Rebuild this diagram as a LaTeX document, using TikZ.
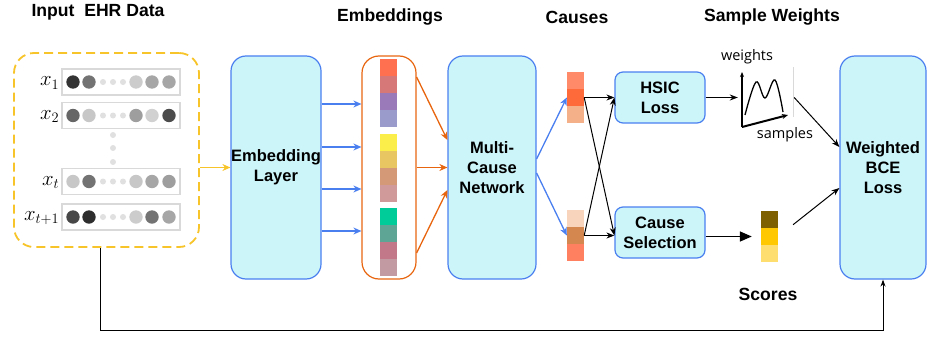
\documentclass[tikz,border=0pt]{standalone}
\usepackage{amsmath}
\usepackage{fontspec}
\setmainfont{Liberation Sans}
\newfontfamily\plotfont{Open Sans}
\usetikzlibrary{arrows.meta}

\definecolor{boxfill}{HTML}{CCF5FA}
\definecolor{boxline}{HTML}{4A7FF0}
\definecolor{embline}{HTML}{E8650F}
\definecolor{ehrline}{HTML}{F7C52A}
% embedding cells
\definecolor{emA}{HTML}{FF7050}
\definecolor{emB}{HTML}{D67878}
\definecolor{emC}{HTML}{9A7AB8}
\definecolor{emD}{HTML}{9B9BCB}
\definecolor{emE}{HTML}{FCEE4A}
\definecolor{emF}{HTML}{E8C763}
\definecolor{emG}{HTML}{D49A78}
\definecolor{emH}{HTML}{D09A9A}
\definecolor{emI}{HTML}{00CC99}
\definecolor{emJ}{HTML}{5FA596}
\definecolor{emK}{HTML}{C27888}
\definecolor{emL}{HTML}{C29AA2}
% causes and scores
\definecolor{caA}{HTML}{FF8A6A}
\definecolor{caB}{HTML}{FF6A3A}
\definecolor{caC}{HTML}{F4B088}
\definecolor{cbA}{HTML}{F8D4BC}
\definecolor{cbB}{HTML}{D4874F}
\definecolor{cbC}{HTML}{FF8060}
\definecolor{scA}{HTML}{7F6000}
\definecolor{scB}{HTML}{FFC800}
\definecolor{scC}{HTML}{FFDE70}

\newcommand{\blockfont}{\fontsize{16.5}{20}\selectfont\bfseries}
\newcommand{\titlefont}{\fontsize{17.6}{20}\selectfont\bfseries}

\begin{document}
\begin{tikzpicture}[x=1pt,y=-1pt]
	\tikzstyle{block}=[rectangle,draw=boxline,fill=boxfill,line width=1.2pt,rounded corners=15pt,minimum width=90pt,minimum height=223pt,align=center,font=\blockfont,inner sep=0pt]
	\tikzstyle{lossbox}=[block,rounded corners=8pt,minimum height=51pt]
	\tikzstyle{embcolumn}=[rectangle,draw=embline,line width=1.2pt,rounded corners=17pt,minimum width=54pt,minimum height=223pt]
	\tikzstyle{ehrframe}=[rectangle,draw=ehrline,line width=1.8pt,dash pattern=on 9pt off 5pt,rounded corners=20pt,minimum width=185pt,minimum height=194pt]
	\tikzstyle{row}=[rectangle,draw=black!15,line width=1.2pt,fill=white,minimum width=118pt,minimum height=26pt]
	\tikzstyle{cell}=[rectangle,inner sep=0pt,minimum width=17pt,minimum height=17.3pt]
	\tikzstyle{title}=[font=\titlefont]
	\tikzstyle{xlab}=[anchor=east,inner sep=1pt,font=\fontsize{20}{22}\selectfont]
	\tikzstyle{bluearrow}=[boxline,line width=1.3pt,-{Stealth[length=8pt,width=7pt]}]
	\tikzstyle{orangearrow}=[embline,line width=1.3pt,-{Stealth[length=8pt,width=7pt]}]
	\tikzstyle{flow}=[black,line width=1pt,-{Stealth[length=8pt,width=6pt]}]
	\useasboundingbox (0,0) rectangle (928,337);

	% titles
	\node (ttlehr) at (98,12) [title] {Input~ EHR Data};
	\node (ttlemb) at (390,17) [title] {Embeddings};
	\node (ttlcau) at (577,17) [title] {Causes};
	\node (ttlsw) at (772,17) [title] {Sample Weights};
	\node (ttlsc) at (768,294) [title] {Scores};

	% input EHR data
	\node (ehr) at (106.5,150) [ehrframe] {};
	\foreach \n/\lab/\ya/\a/\b/\c/\d/\e in {r1/{x_1}/82/80/55/20/35/35,
		r2/{x_2}/115.5/60/22/38/18/70,
		rt/{x_t}/181.5/22/55/22/35/38,
		rtt/{x_{t+1}}/217/72/82/20/55/35} {
		\node (row\n) at (121,\ya) [row] {};
		\node (lab\n) at ([xshift=-1pt,yshift=-1pt]row\n.west) [xlab] {$\lab$};
		\fill [black!\a] ([xshift=-48pt]row\n.center) circle (6.7);
		\fill [black!\b] ([xshift=-32pt]row\n.center) circle (6.7);
		\foreach \dx in {-18,-8,2}
			\fill [black!12] ([xshift=\dx pt]row\n.center) circle (3);
		\fill [black!\c] ([xshift=15pt]row\n.center) circle (6.7);
		\fill [black!\d] ([xshift=31pt]row\n.center) circle (6.7);
		\fill [black!\e] ([xshift=48pt]row\n.center) circle (6.7);
	}
	\foreach \y in {135,148,162}
		\fill [black!12] (113,\y) circle (3);

	% embedding layer and embeddings
	\node (embed) at (276,167.5) [block] {Embedding\\Layer};
	\node (embcol) at (389,167.5) [embcolumn] {};
	\foreach \y/\col [count=\i] in {67.5/emA,84.5/emB,101.5/emC,118.5/emD,
		142.5/emE,159.5/emF,176.5/emG,193.5/emH,
		216.5/emI,233.5/emJ,250.5/emK,267.5/emL}
		\node (emb\i) at (388.5,\y) [cell,fill=\col] {};

	% multi-cause network and causes
	\node (mcn) at (492,167.5) [block,minimum width=88pt] {Multi-\\Cause\\Network};
	\foreach \y/\col [count=\i] in {80.5/caA,97.5/caB,114.5/caC}
		\node (causeA\i) at (575.5,\y) [cell,fill=\col] {};
	\foreach \y/\col [count=\i] in {218.5/cbA,235.5/cbB,252.5/cbC}
		\node (causeB\i) at (575.5,\y) [cell,fill=\col] {};

	% losses
	\node (hsic) at (660,97.5) [lossbox] {HSIC\\Loss};
	\node (csel) at (660,232.5) [lossbox] {Cause\\Selection};
	\node (wbce) at (883,167.5) [block,minimum width=86pt] {Weighted\\BCE\\Loss};

	% sample weights plot
	\node (plot) at (766,97.5) [minimum width=56pt,minimum height=60pt,inner sep=0pt] {};
	\draw [black!15,line width=0.6pt] (793,67) -- (793,117);
	\draw [line width=1.4pt,-{Stealth[length=5pt,width=4pt]}] (742,127) -- (742,72);
	\draw [line width=2pt,-{Stealth[length=6pt,width=5pt]}] (742,127) -- (788,115);
	\draw [line width=1.3pt] plot [smooth,tension=0.6] coordinates {(745,115) (756,82) (765,98) (775,80) (783,112)};
	\node (wlab) at (747,57) [font=\plotfont\fontsize{14.5}{16}\selectfont] {weights};
	\node (slab) at (785,135) [font=\plotfont\fontsize{14.5}{16}\selectfont] {samples};

	% scores
	\foreach \y/\col [count=\i] in {219.5/scA,236.5/scB,253.5/scC}
		\node (score\i) at (769.5,\y) [cell,fill=\col] {};

	% connectors
	\draw [ehrline,line width=1.3pt,-{Stealth[length=8pt,width=7pt]}] (ehr.east |- embed.west) -- (embed.west);
	\foreach \dy in {63.5,20.5,-21.5,-63.5}
		\draw [bluearrow] ([yshift=\dy pt]embed.east) -- ([yshift=\dy pt]embcol.west);
	\draw [orangearrow] ([yshift=90.5pt]embcol.east) -- ([yshift=27.5pt]mcn.west);
	\draw [orangearrow] (embcol.east) -- (mcn.west);
	\draw [orangearrow] ([yshift=-85.5pt]embcol.east) -- ([yshift=-22.5pt]mcn.west);
	\draw [bluearrow] ([yshift=8.5pt]mcn.east) -- (causeA2.west);
	\draw [bluearrow] ([yshift=-5.5pt]mcn.east) -- (causeB2.west);
	\draw [flow] (causeA2.east) -- (causeA2.east -| hsic.west);
	\draw [flow] (causeA2.east) -- (causeB2.east -| csel.west);
	\draw [flow] (causeB2.east) -- (causeB2.east -| csel.west);
	\draw [flow] (causeB2.east) -- (causeA2.east -| hsic.west);
	\draw [flow] (hsic.east) -- (plot.west);
	\draw [flow] (plot.east) -- ([yshift=20.5pt]wbce.west);
	\draw [line width=1.6pt,-{Triangle[length=12pt,width=10pt]},shorten >=9pt] (csel.east |- score2.west) -- (score2.west);
	\draw [flow,shorten <=19pt] (score2.east) -- ([yshift=-20.5pt]wbce.west);
	\draw [flow,-{Stealth[length=7pt,width=5pt]}] ([xshift=-6.5pt]ehr.south) -- ++(0,83) -| (wbce.south);
\end{tikzpicture}
\end{document}
